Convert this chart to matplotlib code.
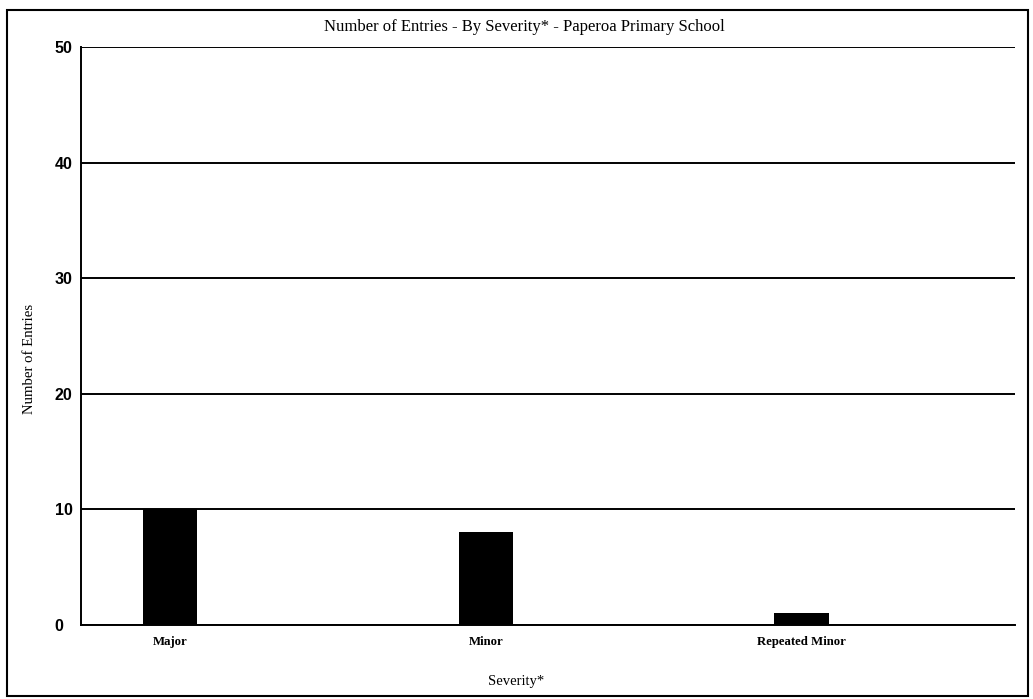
import matplotlib
matplotlib.use("Agg")
import matplotlib.pyplot as plt
from matplotlib.patches import Rectangle

# Données
categories = ["Major", "Minor", "Repeated Minor"]
entries = [10, 8, 1]
y_ticks = [0, 10, 20, 30, 40, 50]

SERIF = "Liberation Serif"
SANS = "Liberation Sans"

fig = plt.figure(figsize=(10.33, 6.99), dpi=100)
ax = fig.add_axes([0.0784, 0.1059, 0.9042, 0.8269])

x = list(range(len(categories)))
ax.bar(x, entries, width=0.172, color="black", zorder=3)

ax.set_xlim(-0.282, 2.676)
ax.set_ylim(0, 50)
ax.set_yticks(y_ticks)
ax.yaxis.grid(True, color="black", linewidth=1.4, zorder=1)
ax.set_axisbelow(True)

for s in ["top", "right"]:
    ax.spines[s].set_visible(False)
ax.spines["left"].set_linewidth(1.4)
ax.spines["bottom"].set_linewidth(1.4)
ax.tick_params(length=0)
ax.tick_params(axis="y", pad=19)
ax.tick_params(axis="x", pad=8)

ax.set_xticks(x)
ax.set_xticklabels(categories, fontfamily=SERIF, fontweight="bold", fontsize=9.2)
for lab in ax.get_yticklabels():
    lab.set_fontfamily(SANS); lab.set_fontweight("bold"); lab.set_fontsize(11.5)
    lab.set_horizontalalignment("left")   # étiquettes alignées à gauche

fig.text(0.508, 0.962, "Number of Entries - By Severity* - Paperoa Primary School",
         ha="center", va="center", fontfamily=SERIF, fontsize=12)
fig.text(0.029, 0.486, "Number of Entries", rotation=90, ha="center", va="center",
         fontfamily=SERIF, fontsize=10.6)
fig.text(0.5, 0.025, "Severity*", ha="center", va="center",
         fontfamily=SERIF, fontsize=10.5)

# cadre autour de la figure
fig.patches.append(Rectangle((0.0068, 0.0043), 0.988, 0.981, transform=fig.transFigure,
                             fill=False, edgecolor="black", linewidth=1.5))

fig.savefig("out.png", dpi=100)
